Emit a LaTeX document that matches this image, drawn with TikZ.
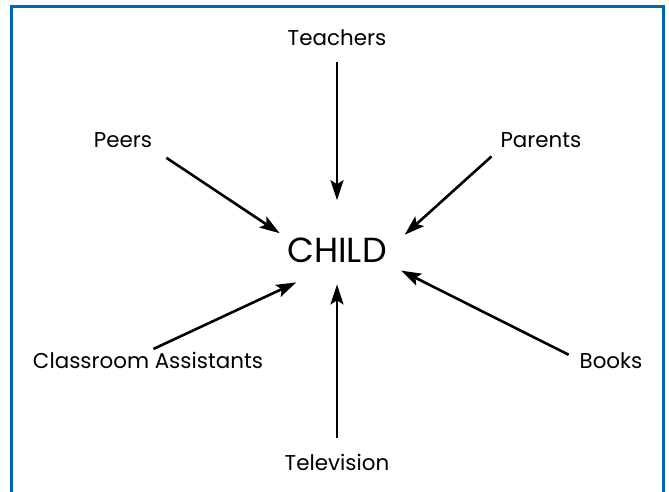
\documentclass[tikz,border=0pt]{standalone}
\usepackage{fontspec}
\setmainfont{Poppins}
\usepackage{tikz}
\usetikzlibrary{arrows.meta}
\definecolor{frameblue}{RGB}{0,102,178}
\tikzset{
    boxline/.style={draw=frameblue, line width=3bp},
    agent/.style={font=\fontsize{21.5}{25}\selectfont, inner sep=0pt, anchor=base},
    centre/.style={font=\fontsize{35}{40}\selectfont, inner sep=0pt, anchor=base},
    influence/.style={draw=black, line width=2.6bp,
        -{Stealth[length=20bp,width=13bp,inset=4bp]}},
}

\begin{document}
\begin{tikzpicture}[x=1bp, y=-1bp]
	\useasboundingbox (0,0) rectangle (669,492);
	\draw[boxline] (11.5,492) -- (11.5,6.5) -- (663.5,6.5) -- (663.5,492);
	\node[centre] (child) at (337,263) {CHILD};
	\node[agent] (teachers) at (337,46) {Teachers};
	\node[agent] (peers) at (123,148) {Peers};
	\node[agent] (parents) at (541,148) {Parents};
	\node[agent] (assistants) at (148,368) {Classroom Assistants};
	\node[agent] (books) at (611,368) {Books};
	\node[agent] (television) at (337,470) {Television};
	% everything points in towards the child
	\draw[influence, shorten <=16bp, shorten >=38bp] (teachers.south) -- (child.north);
	\draw[influence, shorten <=17bp, shorten >=9bp] (peers.south east) -- (child.north west);
	\draw[influence, shorten <=12bp, shorten >=24bp] (parents.south west) -- (child.east);
	\draw[influence, shorten <=6bp, shorten >=45bp] (assistants.north) -- (child.south);
	\draw[influence, shorten <=12bp, shorten >=16bp] (books.west) -- (child.south east);
	\draw[influence, shorten <=16bp, shorten >=21bp] (television.north) -- (child.south);
\end{tikzpicture}
\end{document}
